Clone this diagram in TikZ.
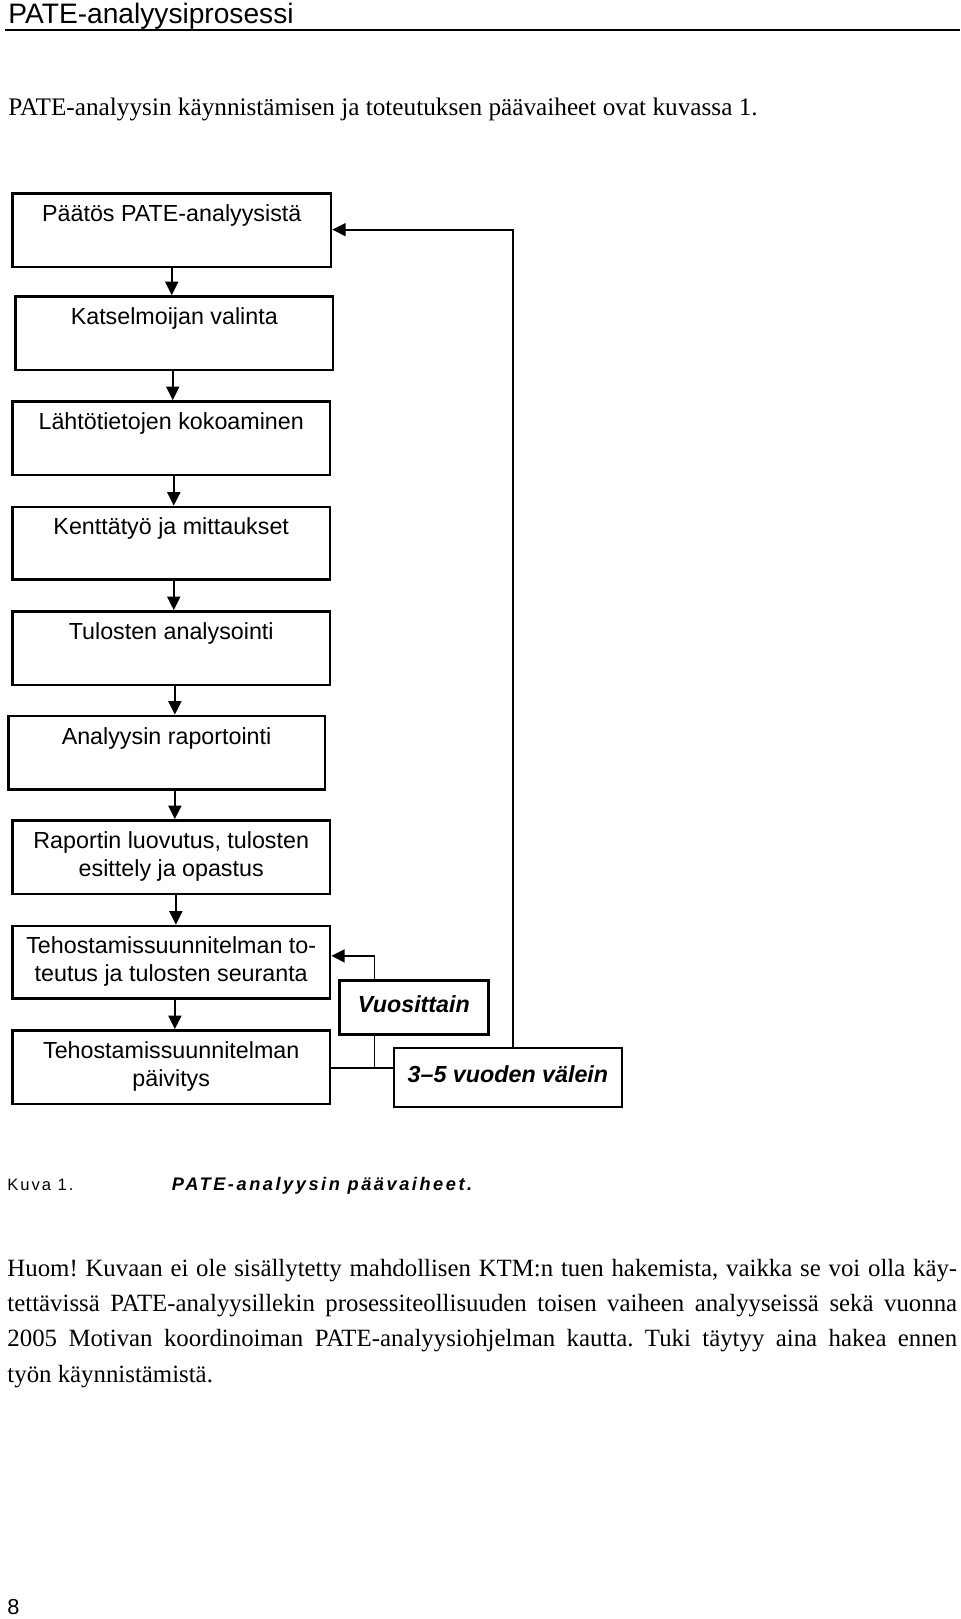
\documentclass[tikz,border=0pt]{standalone}
\usepackage{fontspec}
\setmainfont{Liberation Serif}
\setsansfont{Liberation Sans}
\newfontfamily\capsans[LetterSpace=12]{Liberation Sans}
\newfontfamily\capsansb[LetterSpace=14]{Liberation Sans}
\usetikzlibrary{arrows.meta}
\newcommand\boxfont{\sffamily\fontsize{22.5}{27}\selectfont}
\newcommand\bodyfont{\rmfamily\fontsize{24}{34}\selectfont}
\begin{document}
\frenchspacing
\begin{tikzpicture}[x=1pt,y=-1pt,
  box/.style={draw, line width=2.4pt, inner sep=0pt, align=center, font=\boxfont,
              minimum width=307pt, minimum height=71pt},
  ibox/.style={draw, line width=2.4pt, inner sep=0pt, align=center, text depth=6pt,
               font=\boxfont\bfseries\itshape},
  conn/.style={line width=1.8pt},
  arr/.style={conn, -{Triangle[length=13pt,width=12.5pt]}},
  txt/.style={anchor=base west, inner sep=0pt},
]
\useasboundingbox (0,0) rectangle (928,1565);

% header
\node[txt, font=\sffamily\fontsize{27.2}{30}\selectfont] (hd) at (8,23) {PATE-analyysiprosessi};
\coordinate (r1) at (5,29);
\coordinate (r2) at (928,29);
\draw[line width=1.4pt] (r1) -- (r2);

\node[txt, font=\rmfamily\fontsize{24.4}{30}\selectfont] (intro) at (8,112) {PATE-analyysin käynnistämisen ja toteutuksen päävaiheet ovat kuvassa 1.};

% flow boxes
\node[box, minimum width=308pt] (b1) at (166,222.5) {\strut Päätös PATE-analyysistä\\\strut};
\node[box] (b2) at (168.5,322) {\strut Katselmoijan valinta\\\strut};
\node[box] (b3) at (165.5,423.5) {\strut Lähtötietojen kokoaminen\\\strut};
\node[box, minimum height=70pt] (b4) at (165.5,525) {\strut Kenttätyö ja mittaukset\\\strut};
\node[box] (b5) at (165.5,626.5) {\strut Tulosten analysointi\\\strut};
\node[box, minimum width=306pt] (b6) at (161,727.5) {\strut Analyysin raportointi\\\strut};
\node[box] (b7) at (165.5,828.5) {\strut Raportin luovutus, tulosten\\\strut esittely ja opastus};
\node[box, minimum height=70pt] (b8) at (165.5,930) {\strut Tehostamissuunnitelman to-\\\strut teutus ja tulosten seuranta};
\node[box] (b9) at (165.5,1031.5) {\strut Tehostamissuunnitelman\\\strut päivitys};

\node[ibox, minimum width=144pt, minimum height=52pt] (vu) at (400,974) {Vuosittain};
\node[ibox, minimum width=220pt, minimum height=57pt] (tf) at (491,1041.5) {3–5 vuoden välein};

% downward arrows
\coordinate (x1) at (166,0);
\coordinate (x2) at (167,0);
\coordinate (x3) at (168,0);
\coordinate (x5) at (169,0);
\coordinate (x7) at (170,0);
\draw[arr] (x1 |- b1.south) -- (x1 |- b2.north);
\draw[arr] (x2 |- b2.south) -- (x2 |- b3.north);
\draw[arr] (x3 |- b3.south) -- (x3 |- b4.north);
\draw[arr] (x3 |- b4.south) -- (x3 |- b5.north);
\draw[arr] (x5 |- b5.south) -- (x5 |- b6.north);
\draw[arr] (x5 |- b6.south) -- (x5 |- b7.north);
\draw[arr] (x7 |- b7.south) -- (x7 |- b8.north);
\draw[arr] (x5 |- b8.south) -- (x5 |- b9.north);

% feedback connectors
\coordinate (k1) at (362,924);
\coordinate (k2) at (362,1032.5);
\coordinate (k3) at (495.5,222);
\draw[arr] (k1 |- vu.north) -- (k1) -- (k1 -| b8.east);
\draw[conn] (k2 |- vu.south) -- (k2);
\draw[conn] (k2 -| b9.east) -- (k2 -| tf.west);
\draw[arr] (k3 |- tf.north) -- (k3) -- (k3 -| b1.east);

% caption
\node[txt, font=\capsans\fontsize{16}{20}\selectfont] (kuva) at (7,1151) {Kuva 1.};
\node[txt, font=\capsansb\fontsize{17.6}{20}\selectfont\bfseries\itshape] (capt) at (166,1151) {PATE-analyysin päävaiheet.};

% note
\node[txt, font=\bodyfont] (n1) at (7,1234) {\makebox[918pt][s]{Huom! Kuvaan ei ole sisällytetty mahdollisen KTM:n tuen hakemista, vaikka se voi olla käy-}};
\node[txt, font=\bodyfont] (n2) at (7,1268) {\makebox[918pt][s]{tettävissä PATE-analyysillekin prosessiteollisuuden toisen vaiheen analyyseissä sekä vuonna}};
\node[txt, font=\bodyfont] (n3) at (7,1302) {\makebox[918pt][s]{2005 Motivan koordinoiman PATE-analyysiohjelman kautta. Tuki täytyy aina hakea ennen}};
\node[txt, font=\bodyfont] (n4) at (7,1336) {työn käynnistämistä.};

\node[txt, font=\sffamily\fontsize{21}{24}\selectfont] (pg) at (7,1561) {8};
\end{tikzpicture}
\end{document}
